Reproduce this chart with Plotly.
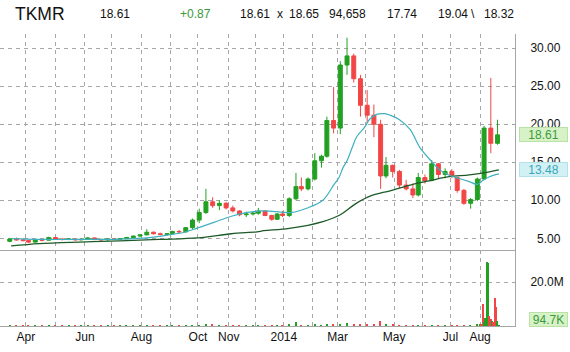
import plotly.graph_objects as go
from plotly.subplots import make_subplots

# ---------------- data (weekly candles, mid-week date) ----------------
week_dates = [
    "2013-03-13", "2013-03-20", "2013-03-27", "2013-04-03", "2013-04-10", "2013-04-17", "2013-04-24",
    "2013-05-01", "2013-05-08", "2013-05-15", "2013-05-22", "2013-05-29", "2013-06-05", "2013-06-12",
    "2013-06-19", "2013-06-26", "2013-07-03", "2013-07-10", "2013-07-17", "2013-07-24", "2013-07-31",
    "2013-08-07", "2013-08-14", "2013-08-21", "2013-08-28", "2013-09-04", "2013-09-11", "2013-09-18",
    "2013-09-25", "2013-10-02", "2013-10-09", "2013-10-16", "2013-10-23", "2013-10-30", "2013-11-06",
    "2013-11-13", "2013-11-20", "2013-11-27", "2013-12-04", "2013-12-11", "2013-12-18", "2013-12-24",
    "2013-12-31", "2014-01-08", "2014-01-15", "2014-01-22", "2014-01-29", "2014-02-05", "2014-02-12",
    "2014-02-19", "2014-02-26", "2014-03-05", "2014-03-12", "2014-03-19", "2014-03-26", "2014-04-02",
    "2014-04-09", "2014-04-16", "2014-04-23", "2014-04-30", "2014-05-07", "2014-05-14", "2014-05-21",
    "2014-05-28", "2014-06-04", "2014-06-11", "2014-06-18", "2014-06-25", "2014-07-02", "2014-07-09",
    "2014-07-16", "2014-07-23", "2014-07-30", "2014-08-06", "2014-08-13", "2014-08-20",
]
opens = [
    4.6, 4.9, 4.8, 4.7, 4.5, 4.8, 4.75, 5.1, 4.9, 4.85, 4.9, 4.8, 4.85, 5.05, 4.85, 4.8, 4.9, 4.85,
    4.95, 5.1, 5.3, 5.45, 5.8, 5.6, 5.5, 5.6, 5.9, 5.85, 6.4, 7.4, 8.4, 9.8, 9.3, 9.6, 9.0, 8.6, 8.1,
    8.2, 8.3, 8.6, 8.0, 7.5, 8.2, 8.0, 10.2, 11.8, 11.5, 12.8, 15.2, 15.8, 20.5, 19.5, 27.8, 29.0,
    26.0, 22.5, 21.2, 20.0, 13.2, 14.6, 13.8, 12.0, 11.5, 10.7, 13.0, 12.6, 14.8, 13.4, 13.8, 13.0,
    11.3, 9.6, 10.1, 12.8, 19.5, 17.5,
]
highs = [
    5.0, 5.1, 5.0, 4.8, 4.9, 4.95, 5.2, 5.2, 5.0, 5.0, 5.0, 4.95, 5.15, 5.1, 4.95, 4.95, 5.0, 5.0,
    5.2, 5.35, 5.5, 6.2, 5.9, 5.75, 5.7, 6.0, 6.1, 6.5, 7.6, 8.9, 11.5, 10.4, 10.0, 9.8, 9.3, 8.7,
    8.5, 8.5, 9.0, 8.7, 8.1, 8.3, 8.6, 10.4, 13.6, 13.0, 13.0, 16.2, 16.0, 21.0, 24.9, 28.3, 31.4,
    29.3, 26.5, 24.5, 22.6, 20.6, 15.7, 14.7, 14.0, 12.7, 12.2, 13.6, 13.4, 15.3, 14.9, 14.2, 14.1,
    13.1, 11.5, 10.3, 13.0, 19.8, 26.1, 20.6,
]
lows = [
    4.5, 4.7, 4.6, 4.4, 4.4, 4.6, 4.7, 4.8, 4.7, 4.75, 4.75, 4.7, 4.8, 4.75, 4.7, 4.7, 4.8, 4.8,
    4.9, 5.0, 5.15, 5.4, 5.5, 5.4, 5.3, 5.5, 5.7, 5.75, 6.2, 7.0, 8.2, 9.0, 8.7, 8.8, 8.4, 7.9,
    7.8, 8.0, 8.1, 7.9, 7.3, 7.4, 7.8, 7.8, 10.0, 11.2, 11.3, 12.6, 14.3, 15.6, 18.8, 18.7, 26.5,
    25.5, 21.0, 20.2, 18.3, 11.5, 12.9, 13.0, 11.6, 11.3, 10.3, 10.5, 12.2, 12.5, 12.9, 12.9, 12.9,
    11.0, 9.4, 8.9, 9.9, 12.7, 16.2, 17.3,
]
closes = [
    4.9, 4.8, 4.7, 4.5, 4.8, 4.75, 5.1, 4.9, 4.85, 4.9, 4.8, 4.85, 5.05, 4.85, 4.8, 4.9, 4.85, 4.95,
    5.1, 5.3, 5.45, 5.8, 5.6, 5.5, 5.6, 5.9, 5.85, 6.4, 7.4, 8.4, 9.8, 9.3, 9.6, 9.0, 8.6, 8.1, 8.2,
    8.3, 8.6, 8.0, 7.5, 8.2, 8.0, 10.2, 11.8, 11.5, 12.8, 15.2, 15.8, 20.5, 19.5, 27.8, 29.0, 26.0,
    22.5, 21.2, 20.0, 13.2, 14.6, 13.8, 12.0, 11.5, 10.7, 13.0, 12.6, 14.8, 13.4, 13.8, 13.3, 11.3,
    9.6, 10.1, 12.8, 19.5, 17.5, 18.61,
]

# moving averages
ma50_dates = [
    "2013-03-14", "2013-04-15", "2013-05-28", "2013-07-10", "2013-08-09", "2013-08-26", "2013-09-17",
    "2013-09-30", "2013-10-17", "2013-11-05", "2013-11-21", "2013-12-10", "2013-12-30", "2014-01-10",
    "2014-01-28", "2014-02-13", "2014-02-26", "2014-03-04", "2014-03-07", "2014-03-12", "2014-03-18",
    "2014-03-21", "2014-03-31", "2014-04-04", "2014-04-11", "2014-04-22", "2014-04-28", "2014-05-07",
    "2014-05-19", "2014-05-29", "2014-06-10", "2014-06-19", "2014-06-30", "2014-07-10", "2014-07-22",
    "2014-07-30", "2014-08-05", "2014-08-12", "2014-08-21",
]
ma50_vals = [
    4.95, 4.85, 4.85, 4.9, 5.1, 5.35, 5.8, 6.3, 7.1, 7.9, 8.4, 8.6, 8.45, 8.4, 8.95, 10.0, 12.0,
    13.0, 14.3, 15.2, 17.0, 18.3, 19.6, 20.7, 21.3, 21.4, 21.2, 20.6, 19.3, 17.0, 15.3, 14.0, 13.3,
    12.9, 12.45, 12.1, 12.6, 13.1, 13.48,
]
ma200_dates = [
    "2013-03-14", "2013-04-15", "2013-05-28", "2013-07-10", "2013-08-20", "2013-10-01", "2013-11-05",
    "2013-12-03", "2013-12-10", "2014-01-08", "2014-02-13", "2014-03-05", "2014-03-20", "2014-04-07",
    "2014-04-28", "2014-05-19", "2014-06-10", "2014-06-30", "2014-07-22", "2014-08-12", "2014-08-21",
]
ma200_vals = [
    4.0, 4.3, 4.5, 4.65, 4.85, 5.05, 5.6, 5.85, 6.0, 6.3, 7.2, 8.1, 9.5, 10.6, 11.25, 12.0, 12.6,
    13.1, 13.35, 13.75, 14.0,
]

# volume (millions): weekly through July 2014, daily in August 2014
vol_week_vals = [
    0.10, 0.08, 0.07, 0.06, 0.07, 0.06, 0.08, 0.09, 0.07, 0.06, 0.06, 0.05, 0.08, 0.06, 0.05, 0.06,
    0.05, 0.06, 0.08, 0.09, 0.10, 0.25, 0.12, 0.08, 0.08, 0.10, 0.09, 0.15, 0.25, 0.35, 0.9, 0.5,
    0.4, 0.35, 0.3, 0.2, 0.15, 0.1, 0.15, 0.12, 0.15, 0.08, 0.12, 0.5, 2.0, 0.4, 0.3, 0.5, 0.45,
    0.6, 0.7, 0.9, 1.3, 0.8, 0.7, 0.6, 0.6, 2.4, 0.7, 0.5, 0.4, 0.3, 0.3, 0.25, 0.2, 0.3, 0.25,
    0.2, 0.15, 0.2, 0.25, 0.3, 0.8,
]
aug_dates = [
    "2014-08-01", "2014-08-04", "2014-08-05", "2014-08-06", "2014-08-07", "2014-08-08", "2014-08-11",
    "2014-08-12", "2014-08-13", "2014-08-14", "2014-08-15", "2014-08-18", "2014-08-19", "2014-08-20",
    "2014-08-21",
]
aug_vols = [0.5, 1.0, 10.0, 2.0, 3.5, 29.3, 28.8, 4.5, 3.0, 2.2, 1.8, 12.7, 8.7, 2.5, 0.0947]
aug_up = [True, False, False, True, True, True, True, False, False, True, False, False, False, True, True]

month_ticks = [
    "2013-04-01", "2013-05-01", "2013-06-03", "2013-07-01", "2013-08-01", "2013-09-03", "2013-10-01",
    "2013-11-01", "2013-12-02", "2014-01-02", "2014-02-03", "2014-03-03", "2014-04-01", "2014-05-01",
    "2014-06-02", "2014-07-01", "2014-08-01",
]
month_labels = ["Apr", "", "Jun", "", "Aug", "", "Oct", "Nov", "", "2014", "", "Mar", "", "May", "", "Jul", "Aug"]
price_ticks = [5, 10, 15, 20, 25, 30]
price_labels = ["\u20075.00", "10.00", "15.00", "20.00", "25.00", "30.00"]
vol_ticks = [20]
vol_labels = ["20.0M"]
holidays = [
    "2013-03-29", "2013-05-27", "2013-07-04", "2013-09-02", "2013-11-28", "2013-12-25",
    "2014-01-01", "2014-01-20", "2014-02-17", "2014-04-18", "2014-05-26", "2014-07-04", "2014-09-01",
]

header_texts = ["TKMR", "18.61", "+0.87", "18.61", "x", "18.65", "94,658", "17.74", "19.04", "\\", "18.32"]
last_price_label = "18.61"
last_ma_label = "13.48"
last_vol_label = "94.7K"

# ---------------- figure ----------------
UP = "#22a022"
DOWN = "#f24646"
GRID = "#a6a6a6"

fig = make_subplots(rows=2, cols=1, shared_xaxes=True, vertical_spacing=0)

fig.add_trace(go.Candlestick(
    x=week_dates, open=opens, high=highs, low=lows, close=closes,
    increasing=dict(line=dict(color=UP, width=1), fillcolor=UP),
    decreasing=dict(line=dict(color=DOWN, width=1), fillcolor=DOWN),
    whiskerwidth=0, hoverinfo="skip", showlegend=False,
), row=1, col=1)

fig.add_trace(go.Scatter(x=ma200_dates, y=ma200_vals, mode="lines",
                         line=dict(color="#1d5a28", width=1.3, shape="spline"),
                         hoverinfo="skip", showlegend=False), row=1, col=1)
fig.add_trace(go.Scatter(x=ma50_dates, y=ma50_vals, mode="lines",
                         line=dict(color="#3fb0c0", width=1.2, shape="spline"),
                         hoverinfo="skip", showlegend=False), row=1, col=1)

week_vol_dates = week_dates[:len(vol_week_vals)]
week_up = [c >= o for o, c in zip(opens, closes)][:len(vol_week_vals)]
vol_x = week_vol_dates + aug_dates
vol_y = vol_week_vals + aug_vols
vol_c = [UP if u else DOWN for u in week_up + aug_up]
fig.add_trace(go.Bar(x=vol_x, y=vol_y, marker=dict(color=vol_c, line=dict(width=0)),
                     hoverinfo="skip", showlegend=False), row=2, col=1)

H_TOP, H_BOT, W_PLOT = 34, 26, 515
plot_h = 352 - H_TOP - H_BOT
split = (352 - H_BOT - 250) / plot_h

fig.update_layout(
    width=570, height=352,
    margin=dict(l=0, r=570 - W_PLOT, t=H_TOP, b=H_BOT),
    paper_bgcolor="white", plot_bgcolor="white",
    showlegend=False, bargap=0,
    font=dict(family="Liberation Sans, Arial, sans-serif", size=12, color="#111111"),
)

xcommon = dict(
    type="date", range=["2013-03-01 18:00", "2014-09-09"],
    rangebreaks=[dict(bounds=["sat", "mon"]), dict(values=holidays)],
    tickvals=month_ticks, showgrid=True, gridcolor=GRID, griddash="4px,4px", gridwidth=1,
    showline=True, linecolor=GRID, linewidth=1, ticks="", zeroline=False,
    rangeslider=dict(visible=False), fixedrange=True,
)
fig.update_xaxes(**xcommon)
fig.update_xaxes(showticklabels=False, row=1, col=1)
fig.update_xaxes(ticktext=month_labels, showticklabels=True, tickfont=dict(size=12, color="#111111"),
                 row=2, col=1)

fig.update_yaxes(domain=[split, 1], range=[3.46, 31.88], side="right",
                 tickvals=price_ticks, ticktext=price_labels,
                 showgrid=True, gridcolor=GRID, griddash="4px,4px", gridwidth=1,
                 showline=True, linecolor=GRID, linewidth=1, ticks="", zeroline=False,
                 ticklabelstandoff=12, tickfont=dict(size=12, color="#111111"), row=1, col=1)
fig.update_yaxes(domain=[0, split], range=[0, 34.6], side="right",
                 tickvals=vol_ticks, ticktext=vol_labels,
                 showgrid=True, gridcolor=GRID, griddash="4px,4px", gridwidth=1,
                 showline=True, linecolor=GRID, linewidth=1, ticks="", zeroline=False,
                 ticklabelstandoff=12, tickfont=dict(size=12, color="#111111"), row=2, col=1)

# header
header_x = [13, 98, 178, 238, 275, 287, 327, 385, 436, 469, 482]
header_color = ["#111111", "#111111", "#3a9a3a", "#111111", "#111111", "#111111", "#111111",
                "#111111", "#111111", "#111111", "#111111"]
header_size = [17.5] + [12] * (len(header_texts) - 1)
for t, px, c, s in zip(header_texts, header_x, header_color, header_size):
    fig.add_annotation(text=t, x=px / W_PLOT, y=(352 - H_BOT - 14) / plot_h,
                       xref="paper", yref="paper", xanchor="left", yanchor="middle",
                       showarrow=False, font=dict(size=s, color=c))

# last value boxes
fig.add_annotation(text=last_price_label, x=1, xshift=4, y=closes[-1], xref="paper", yref="y",
                   xanchor="left", yanchor="middle", showarrow=False, width=47, height=13,
                   align="center", bgcolor="#d6f2c6", bordercolor="#b9e2a6", borderwidth=1, borderpad=0,
                   font=dict(size=12, color="#3c9a3c"))
fig.add_annotation(text=last_ma_label, x=1, xshift=4, y=ma50_vals[-1], yshift=4, xref="paper", yref="y",
                   xanchor="left", yanchor="middle", showarrow=False, width=47, height=13,
                   align="center", bgcolor="#d2f1f5", bordercolor="#b4e2ea", borderwidth=1, borderpad=0,
                   font=dict(size=12, color="#3aa6b8"))
fig.add_annotation(text=last_vol_label, x=1, xshift=14, y=7 / plot_h, xref="paper", yref="paper",
                   xanchor="left", yanchor="middle", showarrow=False, width=37, height=13,
                   align="center", bgcolor="#d6f2c6", bordercolor="#b9e2a6", borderwidth=1, borderpad=0,
                   font=dict(size=12, color="#3c9a3c"))

fig.write_html("out.html")
